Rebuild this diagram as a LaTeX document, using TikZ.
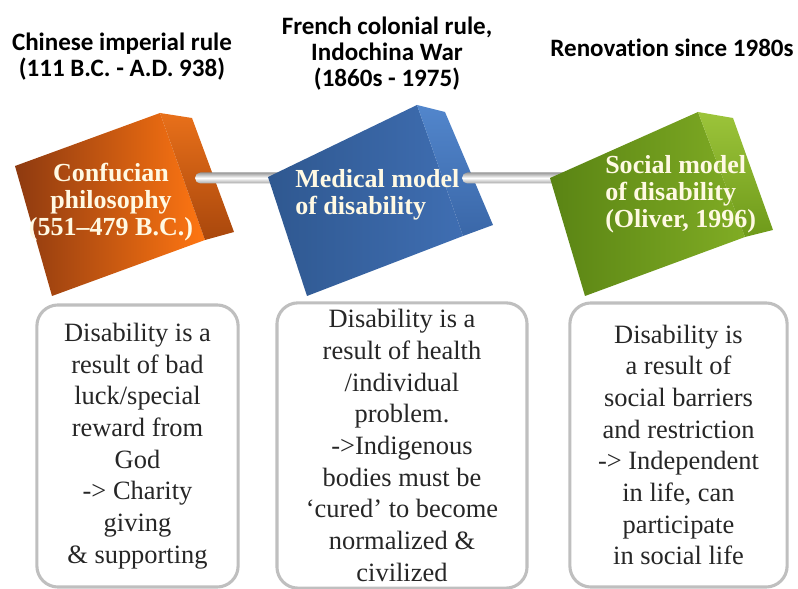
\documentclass[tikz,border=0pt]{standalone}
\usepackage{fontspec}
\setmainfont{Liberation Serif}
\newfontfamily\headfont[Ligatures=NoCommon]{Carlito}
\usetikzlibrary{positioning}

\definecolor{cubewhite}{HTML}{FFF9E3}
\definecolor{orangedark}{HTML}{8E3A10}
\definecolor{orangelight}{HTML}{FF7612}
\definecolor{orangeside}{HTML}{E8701A}
\definecolor{orangesidedark}{HTML}{A9470C}
\definecolor{bluedark}{HTML}{2F5890}
\definecolor{bluelight}{HTML}{3F6EB2}
\definecolor{blueside}{HTML}{5286CC}
\definecolor{bluesidedark}{HTML}{3A67A8}
\definecolor{greendark}{HTML}{5A8414}
\definecolor{greenlight}{HTML}{80AC24}
\definecolor{greenside}{HTML}{9CC43A}
\definecolor{greensidedark}{HTML}{6E9A1A}

\tikzset{
  period/.style = {font=\headfont\bfseries\fontsize{17.8}{18.5}\selectfont,
    align=center, inner sep=0pt},
  cubetext/.style = {font=\bfseries\fontsize{18.5}{19.2}\selectfont,
    text=cubewhite, inner sep=0pt},
  tube/.style = {top color=gray!80, bottom color=gray!70, middle color=white,
    rounded corners=3.9pt},
  notebox/.style = {draw=gray!50, line width=2.2pt, rounded corners=15pt,
    fill=white, align=center, inner sep=0pt, text=black!85,
    font=\fontsize{18.8}{22.5}\selectfont},
}

\begin{document}
\begin{tikzpicture}[x=0.025cm, y=-0.025cm]
  \useasboundingbox (0,0) rectangle (798,589);

  % periods on top
  \node[period] (chinese) at (122,57) {Chinese imperial rule\\(111 B.C. - A.D. 938)};
  \node[period] (french) at (387,54) {French colonial rule,\\Indochina War\\(1860s - 1975)};
  \node[period] (renov) at (672,48) {Renovation since 1980s};

  % confucian block
  \shade[left color=orangedark, right color=orangelight]
    (15,166) -- (160,113) -- (205,240) -- (52,296) -- cycle;
  \shade[top color=orangeside, bottom color=orangesidedark]
    (160,113) -- (192,118) -- (234,232) -- (205,240) -- cycle;
  \node[cubetext, align=center] (confucian) at (111,202)
    {Confucian\\philosophy\\(551--479 B.C.)};

  % rod between first and second block
  \coordinate (confucian-rod) at (195,172.5);
  \coordinate (medical-rod) at (292,183.5);
  \shade[tube] (confucian-rod) rectangle (medical-rod);

  % medical block
  \shade[left color=bluedark, right color=bluelight]
    (268,177) -- (417,105) -- (463,236) -- (307,296) -- cycle;
  \shade[top color=blueside, bottom color=bluesidedark]
    (417,105) -- (445,112) -- (493,225) -- (463,236) -- cycle;
  \node[cubetext, align=left, anchor=west] (medical) at (295,195)
    {Medical model\\of disability};

  % rod between second and third block
  \coordinate (medical-rod2) at (462,172.5);
  \coordinate (social-rod) at (572,183.5);
  \shade[tube] (medical-rod2) rectangle (social-rod);

  % social block
  \shade[left color=greendark, right color=greenlight]
    (550,178) -- (698,112) -- (745,237) -- (585,296) -- cycle;
  \shade[top color=greenside, bottom color=greensidedark]
    (698,112) -- (733,118) -- (773,230) -- (745,237) -- cycle;
  \node[cubetext, align=left, anchor=west] (social) at (605,194)
    {Social model\\of disability\\(Oliver, 1996)};

  % explanations below
  \node[notebox, minimum width=5.03cm, minimum height=7.05cm] (luck) at (137.5,446)
    {Disability is a\\result of bad\\luck/special\\reward from\\God\\-> Charity\\giving\\\& supporting};
  \node[notebox, minimum width=6.25cm, minimum height=7.13cm] (health) at (402,445.5)
    {Disability is a\\result of health\\/individual\\problem.\\->Indigenous\\bodies must be\\`cured' to become\\normalized \&\\civilized};
  \node[notebox, minimum width=5.43cm, minimum height=7.1cm] (barrier) at (678.5,445)
    {Disability is\\a result of\\social barriers\\and restriction\\-> Independent\\in life, can\\participate\\in social life};
\end{tikzpicture}
\end{document}
